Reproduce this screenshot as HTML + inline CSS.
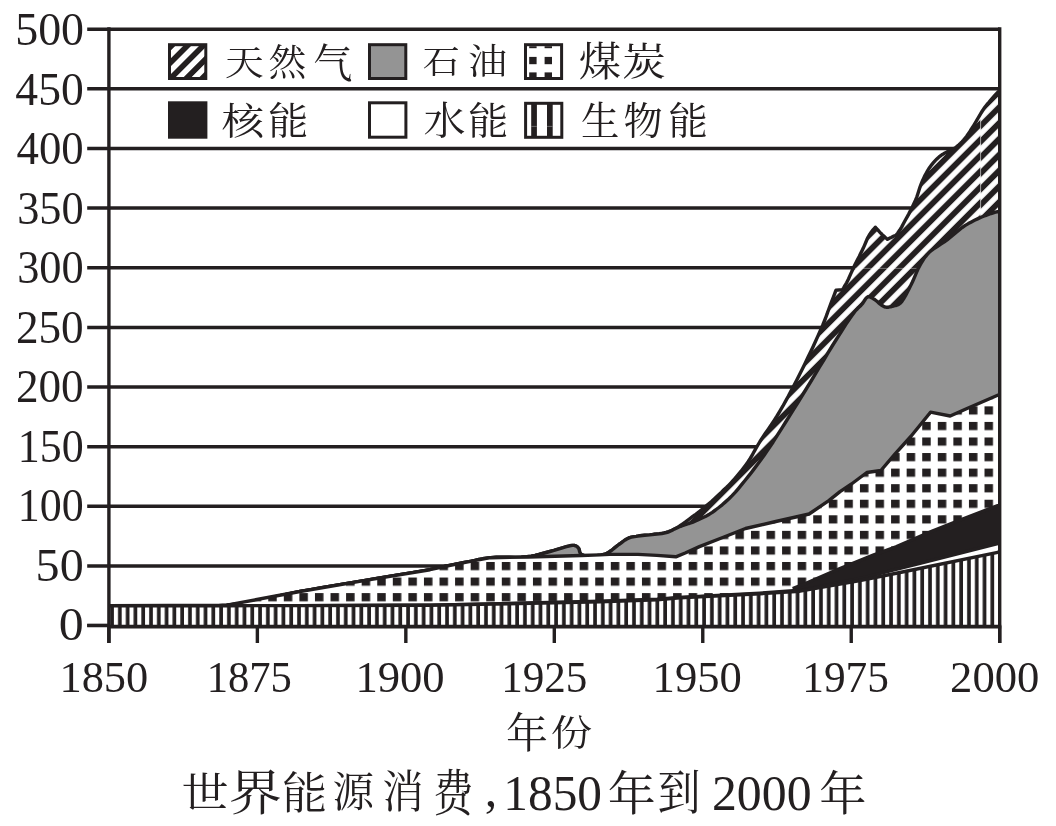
<!DOCTYPE html>
<html><head><meta charset="utf-8"><title>世界能源消费</title>
<style>html,body{margin:0;padding:0;background:#fff;overflow:hidden}svg{display:block;will-change:transform}</style></head>
<body><svg width="1056" height="826" viewBox="0 0 1056 826">
<rect width="1056" height="826" fill="#fff"/>
<defs>
<pattern id="pBio" patternUnits="userSpaceOnUse" x="113.9" y="0" width="7.79" height="20"><rect width="7.79" height="20" fill="#fff"/><rect x="4.1" width="3.69" height="20" fill="#231f20"/></pattern>
<pattern id="pCoal" patternUnits="userSpaceOnUse" x="314.95" y="593.1" width="15.571" height="15.562"><rect width="15.571" height="15.562" fill="#fff"/><rect width="8.5" height="8.2" fill="#231f20"/></pattern>
<pattern id="pGas" patternUnits="userSpaceOnUse" x="0" y="0" width="11.172" height="20" patternTransform="translate(1167.5,0) rotate(45)"><rect width="11.172" height="20" fill="#fff"/><rect x="-2.905" width="5.810" height="20" fill="#231f20"/><rect x="8.267" width="5.810" height="20" fill="#231f20"/></pattern>
<pattern id="pGas2" patternUnits="userSpaceOnUse" x="0" y="0" width="11.172" height="20" patternTransform="translate(1169.7,0) rotate(45)"><rect width="11.172" height="20" fill="#fff"/><rect x="-2.905" width="5.810" height="20" fill="#231f20"/><rect x="8.267" width="5.810" height="20" fill="#231f20"/></pattern>
<pattern id="pGasL" patternUnits="userSpaceOnUse" x="0" y="0" width="11.17" height="20" patternTransform="translate(233.1,0) rotate(45)"><rect width="11.17" height="20" fill="#fff"/><rect x="-2.79" width="5.58" height="20" fill="#231f20"/><rect x="8.38" width="5.58" height="20" fill="#231f20"/></pattern>
</defs>
<line x1="87.2" y1="29.20" x2="999.7" y2="29.20" stroke="#231f20" stroke-width="3.5"/>
<line x1="87.2" y1="88.84" x2="999.7" y2="88.84" stroke="#231f20" stroke-width="3.5"/>
<line x1="87.2" y1="148.48" x2="999.7" y2="148.48" stroke="#231f20" stroke-width="3.5"/>
<line x1="87.2" y1="208.12" x2="999.7" y2="208.12" stroke="#231f20" stroke-width="3.5"/>
<line x1="87.2" y1="267.76" x2="999.7" y2="267.76" stroke="#231f20" stroke-width="3.5"/>
<line x1="87.2" y1="327.40" x2="999.7" y2="327.40" stroke="#231f20" stroke-width="3.5"/>
<line x1="87.2" y1="387.04" x2="999.7" y2="387.04" stroke="#231f20" stroke-width="3.5"/>
<line x1="87.2" y1="446.68" x2="999.7" y2="446.68" stroke="#231f20" stroke-width="3.5"/>
<line x1="87.2" y1="506.32" x2="999.7" y2="506.32" stroke="#231f20" stroke-width="3.5"/>
<line x1="87.2" y1="565.96" x2="999.7" y2="565.96" stroke="#231f20" stroke-width="3.5"/>
<line x1="87.2" y1="625.60" x2="999.7" y2="625.60" stroke="#231f20" stroke-width="3.5"/>
<clipPath id="cG"><polygon points="108.9,605.7 115.2,605.9 131.8,606.3 154.9,606.7 180.8,606.8 206.0,606.4 226.7,605.2 240.0,603.6 252.7,601.4 264.8,599.0 276.6,596.3 288.3,593.8 300.0,591.5 310.9,589.6 321.6,587.7 332.2,585.9 342.7,584.2 353.3,582.4 364.0,580.6 375.4,578.7 387.5,576.8 399.7,574.8 411.2,573.0 421.5,571.2 430.0,569.7 433.4,569.0 436.3,568.4 438.9,567.8 441.4,567.2 443.9,566.6 446.7,566.0 450.1,565.3 453.5,564.6 457.1,563.9 460.7,563.2 464.3,562.5 467.9,561.8 471.6,561.1 475.2,560.3 478.9,559.5 482.6,558.8 486.5,558.2 490.6,557.7 496.3,557.3 502.4,557.3 508.8,557.3 515.2,557.4 521.3,557.3 527.0,556.8 531.2,556.2 535.1,555.4 538.9,554.5 542.6,553.5 546.3,552.5 550.0,551.5 554.0,550.4 558.2,549.1 562.4,547.8 566.4,546.7 569.8,545.8 572.4,545.4 573.2,545.4 573.9,545.4 574.5,545.5 575.0,545.6 575.5,545.8 576.0,546.0 576.5,546.3 576.9,546.5 577.3,546.9 577.7,547.3 578.1,547.7 578.5,548.2 579.0,549.1 579.3,550.2 579.6,551.5 580.0,552.7 580.6,553.8 581.5,554.6 584.1,555.6 587.8,556.0 592.1,556.1 596.7,555.8 601.0,555.1 604.7,554.2 607.4,553.1 609.9,551.5 612.3,549.8 614.6,547.9 616.8,546.1 618.9,544.5 620.6,543.3 622.2,542.1 623.7,541.0 625.2,539.9 626.8,539.0 628.4,538.2 629.9,537.6 631.4,537.2 633.0,536.9 634.6,536.6 636.2,536.4 637.9,536.1 640.1,535.8 642.4,535.5 644.8,535.3 647.3,535.1 649.7,534.9 652.1,534.6 654.5,534.3 656.9,534.0 659.2,533.8 661.6,533.4 663.8,533.0 666.0,532.5 667.7,532.0 669.4,531.4 671.0,530.8 672.5,530.1 674.1,529.3 675.8,528.4 678.1,527.1 680.4,525.5 682.8,523.8 685.2,522.1 687.6,520.3 690.0,518.5 692.4,516.7 694.9,515.0 697.3,513.2 699.7,511.3 702.1,509.4 704.5,507.5 706.9,505.4 709.4,503.3 711.8,501.2 714.2,499.0 716.6,496.7 719.0,494.5 721.5,492.2 723.9,489.8 726.4,487.5 728.8,485.1 731.2,482.6 733.6,480.0 736.1,477.1 738.6,474.2 741.1,471.2 743.5,468.0 745.8,464.9 748.1,461.7 750.2,458.5 752.2,455.2 754.0,451.8 755.9,448.4 757.9,445.0 760.0,441.5 762.6,437.4 765.4,433.3 768.3,429.1 771.3,424.8 774.2,420.4 777.0,416.0 779.9,411.2 782.8,406.2 785.6,401.1 788.4,396.0 791.1,390.8 793.9,385.6 796.8,380.0 799.7,374.3 802.6,368.6 805.4,362.8 808.1,357.1 810.8,351.5 813.3,346.2 815.8,340.8 818.2,335.4 820.5,330.2 822.6,325.4 824.4,321.0 825.4,318.5 826.2,316.3 827.0,314.2 827.7,312.1 828.5,310.0 829.3,307.8 830.5,304.6 831.9,300.8 833.4,297.0 834.7,293.6 835.6,291.1 836.0,290.2 842.6,289.6 842.8,289.2 843.5,288.1 844.4,286.5 845.5,284.7 846.6,282.8 847.5,281.0 848.5,279.0 849.4,276.9 850.4,274.6 851.4,272.4 852.4,270.0 853.5,267.7 854.8,265.0 856.2,262.2 857.7,259.3 859.2,256.5 860.6,253.6 862.0,250.8 863.3,248.1 864.5,245.3 865.7,242.5 866.8,239.8 868.0,237.3 869.3,235.0 870.4,233.3 871.7,231.6 873.0,229.9 874.2,228.5 875.0,227.6 875.3,227.2 875.6,227.5 876.4,228.5 877.6,229.7 878.9,231.2 880.2,232.6 881.4,233.8 882.5,234.9 883.8,236.1 885.1,237.3 886.3,238.3 887.1,239.0 887.4,239.3 887.7,239.1 888.6,238.7 889.8,238.1 891.2,237.4 892.5,236.7 893.5,236.2 894.0,236.0 894.5,235.8 894.9,235.7 895.3,235.5 895.8,235.2 896.3,234.8 897.8,233.0 899.6,230.3 901.6,227.1 903.5,223.5 905.4,220.0 907.2,216.8 908.7,214.1 910.1,211.4 911.5,208.8 912.8,206.1 914.1,203.3 915.4,200.5 916.7,197.3 917.8,193.9 918.9,190.5 920.0,187.1 921.2,183.8 922.5,180.7 923.7,178.1 924.9,175.6 926.2,173.2 927.5,170.9 928.9,168.6 930.4,166.5 931.8,164.6 933.4,162.7 935.0,160.9 936.6,159.2 938.2,157.7 939.8,156.3 941.1,155.3 942.4,154.4 943.7,153.7 945.0,152.9 946.4,152.2 947.7,151.5 949.0,150.8 950.3,150.3 951.6,149.7 952.9,149.1 954.2,148.4 955.5,147.6 957.1,146.4 958.7,145.0 960.3,143.5 961.9,141.9 963.5,140.2 965.0,138.4 966.7,136.3 968.2,134.0 969.8,131.7 971.3,129.2 972.9,126.8 974.4,124.3 976.0,121.7 977.5,119.0 979.1,116.3 980.7,113.6 982.3,111.0 983.9,108.6 985.4,106.5 987.0,104.5 988.7,102.6 990.3,100.7 991.8,98.9 993.3,97.2 994.6,95.7 996.0,94.1 997.4,92.6 998.6,91.3 999.4,90.3 999.7,90.0 999.7,625.6 108.9,625.6"/></clipPath>
<clipPath id="cR"><rect x="980.6" y="0" width="30" height="700"/></clipPath>
<polygon points="108.9,605.7 115.2,605.9 131.8,606.3 154.9,606.7 180.8,606.8 206.0,606.4 226.7,605.2 240.0,603.6 252.7,601.4 264.8,599.0 276.6,596.3 288.3,593.8 300.0,591.5 310.9,589.6 321.6,587.7 332.2,585.9 342.7,584.2 353.3,582.4 364.0,580.6 375.4,578.7 387.5,576.8 399.7,574.8 411.2,573.0 421.5,571.2 430.0,569.7 433.4,569.0 436.3,568.4 438.9,567.8 441.4,567.2 443.9,566.6 446.7,566.0 450.1,565.3 453.5,564.6 457.1,563.9 460.7,563.2 464.3,562.5 467.9,561.8 471.6,561.1 475.2,560.3 478.9,559.5 482.6,558.8 486.5,558.2 490.6,557.7 496.3,557.3 502.4,557.3 508.8,557.3 515.2,557.4 521.3,557.3 527.0,556.8 531.2,556.2 535.1,555.4 538.9,554.5 542.6,553.5 546.3,552.5 550.0,551.5 554.0,550.4 558.2,549.1 562.4,547.8 566.4,546.7 569.8,545.8 572.4,545.4 573.2,545.4 573.9,545.4 574.5,545.5 575.0,545.6 575.5,545.8 576.0,546.0 576.5,546.3 576.9,546.5 577.3,546.9 577.7,547.3 578.1,547.7 578.5,548.2 579.0,549.1 579.3,550.2 579.6,551.5 580.0,552.7 580.6,553.8 581.5,554.6 584.1,555.6 587.8,556.0 592.1,556.1 596.7,555.8 601.0,555.1 604.7,554.2 607.4,553.1 609.9,551.5 612.3,549.8 614.6,547.9 616.8,546.1 618.9,544.5 620.6,543.3 622.2,542.1 623.7,541.0 625.2,539.9 626.8,539.0 628.4,538.2 629.9,537.6 631.4,537.2 633.0,536.9 634.6,536.6 636.2,536.4 637.9,536.1 640.1,535.8 642.4,535.5 644.8,535.3 647.3,535.1 649.7,534.9 652.1,534.6 654.5,534.3 656.9,534.0 659.2,533.8 661.6,533.4 663.8,533.0 666.0,532.5 667.7,532.0 669.4,531.4 671.0,530.8 672.5,530.1 674.1,529.3 675.8,528.4 678.1,527.1 680.4,525.5 682.8,523.8 685.2,522.1 687.6,520.3 690.0,518.5 692.4,516.7 694.9,515.0 697.3,513.2 699.7,511.3 702.1,509.4 704.5,507.5 706.9,505.4 709.4,503.3 711.8,501.2 714.2,499.0 716.6,496.7 719.0,494.5 721.5,492.2 723.9,489.8 726.4,487.5 728.8,485.1 731.2,482.6 733.6,480.0 736.1,477.1 738.6,474.2 741.1,471.2 743.5,468.0 745.8,464.9 748.1,461.7 750.2,458.5 752.2,455.2 754.0,451.8 755.9,448.4 757.9,445.0 760.0,441.5 762.6,437.4 765.4,433.3 768.3,429.1 771.3,424.8 774.2,420.4 777.0,416.0 779.9,411.2 782.8,406.2 785.6,401.1 788.4,396.0 791.1,390.8 793.9,385.6 796.8,380.0 799.7,374.3 802.6,368.6 805.4,362.8 808.1,357.1 810.8,351.5 813.3,346.2 815.8,340.8 818.2,335.4 820.5,330.2 822.6,325.4 824.4,321.0 825.4,318.5 826.2,316.3 827.0,314.2 827.7,312.1 828.5,310.0 829.3,307.8 830.5,304.6 831.9,300.8 833.4,297.0 834.7,293.6 835.6,291.1 836.0,290.2 842.6,289.6 842.8,289.2 843.5,288.1 844.4,286.5 845.5,284.7 846.6,282.8 847.5,281.0 848.5,279.0 849.4,276.9 850.4,274.6 851.4,272.4 852.4,270.0 853.5,267.7 854.8,265.0 856.2,262.2 857.7,259.3 859.2,256.5 860.6,253.6 862.0,250.8 863.3,248.1 864.5,245.3 865.7,242.5 866.8,239.8 868.0,237.3 869.3,235.0 870.4,233.3 871.7,231.6 873.0,229.9 874.2,228.5 875.0,227.6 875.3,227.2 875.6,227.5 876.4,228.5 877.6,229.7 878.9,231.2 880.2,232.6 881.4,233.8 882.5,234.9 883.8,236.1 885.1,237.3 886.3,238.3 887.1,239.0 887.4,239.3 887.7,239.1 888.6,238.7 889.8,238.1 891.2,237.4 892.5,236.7 893.5,236.2 894.0,236.0 894.5,235.8 894.9,235.7 895.3,235.5 895.8,235.2 896.3,234.8 897.8,233.0 899.6,230.3 901.6,227.1 903.5,223.5 905.4,220.0 907.2,216.8 908.7,214.1 910.1,211.4 911.5,208.8 912.8,206.1 914.1,203.3 915.4,200.5 916.7,197.3 917.8,193.9 918.9,190.5 920.0,187.1 921.2,183.8 922.5,180.7 923.7,178.1 924.9,175.6 926.2,173.2 927.5,170.9 928.9,168.6 930.4,166.5 931.8,164.6 933.4,162.7 935.0,160.9 936.6,159.2 938.2,157.7 939.8,156.3 941.1,155.3 942.4,154.4 943.7,153.7 945.0,152.9 946.4,152.2 947.7,151.5 949.0,150.8 950.3,150.3 951.6,149.7 952.9,149.1 954.2,148.4 955.5,147.6 957.1,146.4 958.7,145.0 960.3,143.5 961.9,141.9 963.5,140.2 965.0,138.4 966.7,136.3 968.2,134.0 969.8,131.7 971.3,129.2 972.9,126.8 974.4,124.3 976.0,121.7 977.5,119.0 979.1,116.3 980.7,113.6 982.3,111.0 983.9,108.6 985.4,106.5 987.0,104.5 988.7,102.6 990.3,100.7 991.8,98.9 993.3,97.2 994.6,95.7 996.0,94.1 997.4,92.6 998.6,91.3 999.4,90.3 999.7,90.0 999.7,625.6 108.9,625.6" fill="url(#pGas)"/>
<g clip-path="url(#cR)"><polygon points="108.9,605.7 115.2,605.9 131.8,606.3 154.9,606.7 180.8,606.8 206.0,606.4 226.7,605.2 240.0,603.6 252.7,601.4 264.8,599.0 276.6,596.3 288.3,593.8 300.0,591.5 310.9,589.6 321.6,587.7 332.2,585.9 342.7,584.2 353.3,582.4 364.0,580.6 375.4,578.7 387.5,576.8 399.7,574.8 411.2,573.0 421.5,571.2 430.0,569.7 433.4,569.0 436.3,568.4 438.9,567.8 441.4,567.2 443.9,566.6 446.7,566.0 450.1,565.3 453.5,564.6 457.1,563.9 460.7,563.2 464.3,562.5 467.9,561.8 471.6,561.1 475.2,560.3 478.9,559.5 482.6,558.8 486.5,558.2 490.6,557.7 496.3,557.3 502.4,557.3 508.8,557.3 515.2,557.4 521.3,557.3 527.0,556.8 531.2,556.2 535.1,555.4 538.9,554.5 542.6,553.5 546.3,552.5 550.0,551.5 554.0,550.4 558.2,549.1 562.4,547.8 566.4,546.7 569.8,545.8 572.4,545.4 573.2,545.4 573.9,545.4 574.5,545.5 575.0,545.6 575.5,545.8 576.0,546.0 576.5,546.3 576.9,546.5 577.3,546.9 577.7,547.3 578.1,547.7 578.5,548.2 579.0,549.1 579.3,550.2 579.6,551.5 580.0,552.7 580.6,553.8 581.5,554.6 584.1,555.6 587.8,556.0 592.1,556.1 596.7,555.8 601.0,555.1 604.7,554.2 607.4,553.1 609.9,551.5 612.3,549.8 614.6,547.9 616.8,546.1 618.9,544.5 620.6,543.3 622.2,542.1 623.7,541.0 625.2,539.9 626.8,539.0 628.4,538.2 629.9,537.6 631.4,537.2 633.0,536.9 634.6,536.6 636.2,536.4 637.9,536.1 640.1,535.8 642.4,535.5 644.8,535.3 647.3,535.1 649.7,534.9 652.1,534.6 654.5,534.3 656.9,534.0 659.2,533.8 661.6,533.4 663.8,533.0 666.0,532.5 667.7,532.0 669.4,531.4 671.0,530.8 672.5,530.1 674.1,529.3 675.8,528.4 678.1,527.1 680.4,525.5 682.8,523.8 685.2,522.1 687.6,520.3 690.0,518.5 692.4,516.7 694.9,515.0 697.3,513.2 699.7,511.3 702.1,509.4 704.5,507.5 706.9,505.4 709.4,503.3 711.8,501.2 714.2,499.0 716.6,496.7 719.0,494.5 721.5,492.2 723.9,489.8 726.4,487.5 728.8,485.1 731.2,482.6 733.6,480.0 736.1,477.1 738.6,474.2 741.1,471.2 743.5,468.0 745.8,464.9 748.1,461.7 750.2,458.5 752.2,455.2 754.0,451.8 755.9,448.4 757.9,445.0 760.0,441.5 762.6,437.4 765.4,433.3 768.3,429.1 771.3,424.8 774.2,420.4 777.0,416.0 779.9,411.2 782.8,406.2 785.6,401.1 788.4,396.0 791.1,390.8 793.9,385.6 796.8,380.0 799.7,374.3 802.6,368.6 805.4,362.8 808.1,357.1 810.8,351.5 813.3,346.2 815.8,340.8 818.2,335.4 820.5,330.2 822.6,325.4 824.4,321.0 825.4,318.5 826.2,316.3 827.0,314.2 827.7,312.1 828.5,310.0 829.3,307.8 830.5,304.6 831.9,300.8 833.4,297.0 834.7,293.6 835.6,291.1 836.0,290.2 842.6,289.6 842.8,289.2 843.5,288.1 844.4,286.5 845.5,284.7 846.6,282.8 847.5,281.0 848.5,279.0 849.4,276.9 850.4,274.6 851.4,272.4 852.4,270.0 853.5,267.7 854.8,265.0 856.2,262.2 857.7,259.3 859.2,256.5 860.6,253.6 862.0,250.8 863.3,248.1 864.5,245.3 865.7,242.5 866.8,239.8 868.0,237.3 869.3,235.0 870.4,233.3 871.7,231.6 873.0,229.9 874.2,228.5 875.0,227.6 875.3,227.2 875.6,227.5 876.4,228.5 877.6,229.7 878.9,231.2 880.2,232.6 881.4,233.8 882.5,234.9 883.8,236.1 885.1,237.3 886.3,238.3 887.1,239.0 887.4,239.3 887.7,239.1 888.6,238.7 889.8,238.1 891.2,237.4 892.5,236.7 893.5,236.2 894.0,236.0 894.5,235.8 894.9,235.7 895.3,235.5 895.8,235.2 896.3,234.8 897.8,233.0 899.6,230.3 901.6,227.1 903.5,223.5 905.4,220.0 907.2,216.8 908.7,214.1 910.1,211.4 911.5,208.8 912.8,206.1 914.1,203.3 915.4,200.5 916.7,197.3 917.8,193.9 918.9,190.5 920.0,187.1 921.2,183.8 922.5,180.7 923.7,178.1 924.9,175.6 926.2,173.2 927.5,170.9 928.9,168.6 930.4,166.5 931.8,164.6 933.4,162.7 935.0,160.9 936.6,159.2 938.2,157.7 939.8,156.3 941.1,155.3 942.4,154.4 943.7,153.7 945.0,152.9 946.4,152.2 947.7,151.5 949.0,150.8 950.3,150.3 951.6,149.7 952.9,149.1 954.2,148.4 955.5,147.6 957.1,146.4 958.7,145.0 960.3,143.5 961.9,141.9 963.5,140.2 965.0,138.4 966.7,136.3 968.2,134.0 969.8,131.7 971.3,129.2 972.9,126.8 974.4,124.3 976.0,121.7 977.5,119.0 979.1,116.3 980.7,113.6 982.3,111.0 983.9,108.6 985.4,106.5 987.0,104.5 988.7,102.6 990.3,100.7 991.8,98.9 993.3,97.2 994.6,95.7 996.0,94.1 997.4,92.6 998.6,91.3 999.4,90.3 999.7,90.0 999.7,625.6 108.9,625.6" fill="url(#pGas2)"/></g>
<g clip-path="url(#cG)"><line x1="855" y1="268.4" x2="925" y2="268.4" stroke="#fff" stroke-opacity="0.45" stroke-width="0.8"/><line x1="980.6" y1="100" x2="980.6" y2="230" stroke="#fff" stroke-opacity="0.75" stroke-width="0.8"/></g>
<polyline points="108.9,605.7 115.2,605.9 131.8,606.3 154.9,606.7 180.8,606.8 206.0,606.4 226.7,605.2 240.0,603.6 252.7,601.4 264.8,599.0 276.6,596.3 288.3,593.8 300.0,591.5 310.9,589.6 321.6,587.7 332.2,585.9 342.7,584.2 353.3,582.4 364.0,580.6 375.4,578.7 387.5,576.8 399.7,574.8 411.2,573.0 421.5,571.2 430.0,569.7 433.4,569.0 436.3,568.4 438.9,567.8 441.4,567.2 443.9,566.6 446.7,566.0 450.1,565.3 453.5,564.6 457.1,563.9 460.7,563.2 464.3,562.5 467.9,561.8 471.6,561.1 475.2,560.3 478.9,559.5 482.6,558.8 486.5,558.2 490.6,557.7 496.3,557.3 502.4,557.3 508.8,557.3 515.2,557.4 521.3,557.3 527.0,556.8 531.2,556.2 535.1,555.4 538.9,554.5 542.6,553.5 546.3,552.5 550.0,551.5 554.0,550.4 558.2,549.1 562.4,547.8 566.4,546.7 569.8,545.8 572.4,545.4 573.2,545.4 573.9,545.4 574.5,545.5 575.0,545.6 575.5,545.8 576.0,546.0 576.5,546.3 576.9,546.5 577.3,546.9 577.7,547.3 578.1,547.7 578.5,548.2 579.0,549.1 579.3,550.2 579.6,551.5 580.0,552.7 580.6,553.8 581.5,554.6 584.1,555.6 587.8,556.0 592.1,556.1 596.7,555.8 601.0,555.1 604.7,554.2 607.4,553.1 609.9,551.5 612.3,549.8 614.6,547.9 616.8,546.1 618.9,544.5 620.6,543.3 622.2,542.1 623.7,541.0 625.2,539.9 626.8,539.0 628.4,538.2 629.9,537.6 631.4,537.2 633.0,536.9 634.6,536.6 636.2,536.4 637.9,536.1 640.1,535.8 642.4,535.5 644.8,535.3 647.3,535.1 649.7,534.9 652.1,534.6 654.5,534.3 656.9,534.0 659.2,533.8 661.6,533.4 663.8,533.0 666.0,532.5 667.7,532.0 669.4,531.4 671.0,530.8 672.5,530.1 674.1,529.3 675.8,528.4 678.1,527.1 680.4,525.5 682.8,523.8 685.2,522.1 687.6,520.3 690.0,518.5 692.4,516.7 694.9,515.0 697.3,513.2 699.7,511.3 702.1,509.4 704.5,507.5 706.9,505.4 709.4,503.3 711.8,501.2 714.2,499.0 716.6,496.7 719.0,494.5 721.5,492.2 723.9,489.8 726.4,487.5 728.8,485.1 731.2,482.6 733.6,480.0 736.1,477.1 738.6,474.2 741.1,471.2 743.5,468.0 745.8,464.9 748.1,461.7 750.2,458.5 752.2,455.2 754.0,451.8 755.9,448.4 757.9,445.0 760.0,441.5 762.6,437.4 765.4,433.3 768.3,429.1 771.3,424.8 774.2,420.4 777.0,416.0 779.9,411.2 782.8,406.2 785.6,401.1 788.4,396.0 791.1,390.8 793.9,385.6 796.8,380.0 799.7,374.3 802.6,368.6 805.4,362.8 808.1,357.1 810.8,351.5 813.3,346.2 815.8,340.8 818.2,335.4 820.5,330.2 822.6,325.4 824.4,321.0 825.4,318.5 826.2,316.3 827.0,314.2 827.7,312.1 828.5,310.0 829.3,307.8 830.5,304.6 831.9,300.8 833.4,297.0 834.7,293.6 835.6,291.1 836.0,290.2 842.6,289.6 842.8,289.2 843.5,288.1 844.4,286.5 845.5,284.7 846.6,282.8 847.5,281.0 848.5,279.0 849.4,276.9 850.4,274.6 851.4,272.4 852.4,270.0 853.5,267.7 854.8,265.0 856.2,262.2 857.7,259.3 859.2,256.5 860.6,253.6 862.0,250.8 863.3,248.1 864.5,245.3 865.7,242.5 866.8,239.8 868.0,237.3 869.3,235.0 870.4,233.3 871.7,231.6 873.0,229.9 874.2,228.5 875.0,227.6 875.3,227.2 875.6,227.5 876.4,228.5 877.6,229.7 878.9,231.2 880.2,232.6 881.4,233.8 882.5,234.9 883.8,236.1 885.1,237.3 886.3,238.3 887.1,239.0 887.4,239.3 887.7,239.1 888.6,238.7 889.8,238.1 891.2,237.4 892.5,236.7 893.5,236.2 894.0,236.0 894.5,235.8 894.9,235.7 895.3,235.5 895.8,235.2 896.3,234.8 897.8,233.0 899.6,230.3 901.6,227.1 903.5,223.5 905.4,220.0 907.2,216.8 908.7,214.1 910.1,211.4 911.5,208.8 912.8,206.1 914.1,203.3 915.4,200.5 916.7,197.3 917.8,193.9 918.9,190.5 920.0,187.1 921.2,183.8 922.5,180.7 923.7,178.1 924.9,175.6 926.2,173.2 927.5,170.9 928.9,168.6 930.4,166.5 931.8,164.6 933.4,162.7 935.0,160.9 936.6,159.2 938.2,157.7 939.8,156.3 941.1,155.3 942.4,154.4 943.7,153.7 945.0,152.9 946.4,152.2 947.7,151.5 949.0,150.8 950.3,150.3 951.6,149.7 952.9,149.1 954.2,148.4 955.5,147.6 957.1,146.4 958.7,145.0 960.3,143.5 961.9,141.9 963.5,140.2 965.0,138.4 966.7,136.3 968.2,134.0 969.8,131.7 971.3,129.2 972.9,126.8 974.4,124.3 976.0,121.7 977.5,119.0 979.1,116.3 980.7,113.6 982.3,111.0 983.9,108.6 985.4,106.5 987.0,104.5 988.7,102.6 990.3,100.7 991.8,98.9 993.3,97.2 994.6,95.7 996.0,94.1 997.4,92.6 998.6,91.3 999.4,90.3 999.7,90.0" fill="none" stroke="#231f20" stroke-width="3.4" stroke-linejoin="round"/>
<polygon points="108.9,605.7 115.2,605.9 131.8,606.3 154.9,606.7 180.8,606.8 206.0,606.4 226.7,605.2 240.0,603.6 252.7,601.4 264.8,599.0 276.6,596.3 288.3,593.8 300.0,591.5 310.9,589.6 321.6,587.7 332.2,585.9 342.7,584.2 353.3,582.4 364.0,580.6 375.4,578.7 387.5,576.8 399.7,574.8 411.2,573.0 421.5,571.2 430.0,569.7 433.4,569.0 436.3,568.4 438.9,567.8 441.4,567.2 443.9,566.6 446.7,566.0 450.1,565.3 453.5,564.6 457.1,563.9 460.7,563.2 464.3,562.5 467.9,561.8 471.6,561.1 475.2,560.3 478.9,559.5 482.6,558.8 486.5,558.2 490.6,557.7 496.3,557.3 502.4,557.3 508.8,557.3 515.2,557.4 521.3,557.3 527.0,556.8 531.2,556.2 535.1,555.4 538.9,554.5 542.6,553.5 546.3,552.5 550.0,551.5 554.0,550.4 558.2,549.1 562.4,547.8 566.4,546.7 569.8,545.8 572.4,545.4 573.2,545.4 573.9,545.4 574.5,545.5 575.0,545.6 575.5,545.8 576.0,546.0 576.5,546.3 576.9,546.5 577.3,546.9 577.7,547.3 578.1,547.7 578.5,548.2 579.0,549.1 579.3,550.2 579.6,551.5 580.0,552.7 580.6,553.8 581.5,554.6 584.1,555.6 587.8,556.0 592.1,556.1 596.7,555.8 601.0,555.1 604.7,554.2 607.4,553.1 609.9,551.5 612.3,549.8 614.6,547.9 616.8,546.1 618.9,544.5 620.6,543.3 622.2,542.1 623.7,541.0 625.2,539.9 626.8,539.0 628.4,538.2 629.9,537.6 631.4,537.2 633.0,536.9 634.6,536.6 636.2,536.4 637.9,536.1 640.1,535.8 642.4,535.5 644.8,535.3 647.3,535.1 649.7,534.9 652.1,534.6 654.5,534.3 657.0,534.1 659.4,533.9 661.8,533.6 664.1,533.2 666.3,532.7 668.0,532.1 669.6,531.4 671.2,530.7 672.7,529.9 674.2,529.1 675.8,528.4 677.4,527.7 679.0,527.0 680.7,526.3 682.3,525.7 683.8,525.1 685.2,524.6 686.1,524.3 686.9,524.1 687.6,523.9 688.3,523.7 689.1,523.5 690.0,523.2 691.4,522.7 692.9,522.1 694.5,521.4 696.1,520.7 697.8,519.9 699.4,519.2 701.0,518.5 702.6,517.8 704.2,517.0 705.9,516.2 707.6,515.3 709.4,514.2 712.3,512.3 715.5,510.0 718.8,507.5 722.2,504.8 725.5,501.9 728.7,499.0 732.1,495.6 735.4,492.1 738.6,488.3 741.8,484.4 745.0,480.5 748.1,476.6 751.3,472.6 754.5,468.4 757.6,464.3 760.7,460.1 763.8,455.8 766.8,451.4 769.9,446.8 773.0,442.2 776.0,437.4 779.0,432.6 782.2,427.6 785.4,422.5 789.4,416.1 793.6,409.4 797.9,402.5 802.2,395.5 806.5,388.5 810.8,381.5 815.1,374.4 819.4,367.2 823.8,360.0 828.0,352.9 832.2,346.0 836.3,339.5 839.6,334.3 842.9,329.0 846.2,323.9 849.3,319.2 852.3,315.0 854.9,311.5 856.2,310.0 857.5,308.7 858.6,307.5 859.8,306.4 860.9,305.4 862.0,304.2 863.0,302.9 864.0,301.3 865.0,299.8 865.9,298.4 866.9,297.4 868.0,296.8 869.0,296.7 870.0,296.9 871.0,297.4 872.0,297.9 873.1,298.6 874.1,299.2 875.3,300.0 876.6,301.0 877.8,302.1 879.0,303.2 880.2,304.2 881.4,305.0 882.2,305.5 883.0,306.0 883.8,306.4 884.5,306.8 885.3,307.0 886.2,307.2 887.3,307.3 888.5,307.2 889.8,306.9 891.1,306.7 892.3,306.3 893.5,306.0 894.6,305.7 895.7,305.5 896.7,305.2 897.8,304.8 898.8,304.3 899.9,303.5 901.8,301.5 903.6,298.8 905.5,295.6 907.3,292.1 909.1,288.6 910.8,285.3 912.4,282.0 913.9,278.6 915.4,275.1 916.8,271.7 918.3,268.4 919.9,265.4 921.3,263.0 922.6,260.8 924.0,258.6 925.5,256.6 927.1,254.6 929.0,252.6 931.6,250.3 934.5,248.2 937.6,246.2 940.8,244.1 944.0,242.1 947.1,239.9 950.1,237.5 953.1,235.0 956.1,232.4 959.2,229.9 962.2,227.5 965.3,225.4 968.3,223.6 971.4,221.9 974.5,220.3 977.6,218.9 980.6,217.5 983.5,216.3 986.0,215.3 988.5,214.4 991.0,213.5 993.3,212.8 995.4,212.2 997.0,211.8 997.6,211.7 998.2,211.6 998.8,211.5 999.3,211.5 999.6,211.5 999.7,211.5 999.7,625.6 108.9,625.6" fill="#949494"/>
<polyline points="108.9,605.7 115.2,605.9 131.8,606.3 154.9,606.7 180.8,606.8 206.0,606.4 226.7,605.2 240.0,603.6 252.7,601.4 264.8,599.0 276.6,596.3 288.3,593.8 300.0,591.5 310.9,589.6 321.6,587.7 332.2,585.9 342.7,584.2 353.3,582.4 364.0,580.6 375.4,578.7 387.5,576.8 399.7,574.8 411.2,573.0 421.5,571.2 430.0,569.7 433.4,569.0 436.3,568.4 438.9,567.8 441.4,567.2 443.9,566.6 446.7,566.0 450.1,565.3 453.5,564.6 457.1,563.9 460.7,563.2 464.3,562.5 467.9,561.8 471.6,561.1 475.2,560.3 478.9,559.5 482.6,558.8 486.5,558.2 490.6,557.7 496.3,557.3 502.4,557.3 508.8,557.3 515.2,557.4 521.3,557.3 527.0,556.8 531.2,556.2 535.1,555.4 538.9,554.5 542.6,553.5 546.3,552.5 550.0,551.5 554.0,550.4 558.2,549.1 562.4,547.8 566.4,546.7 569.8,545.8 572.4,545.4 573.2,545.4 573.9,545.4 574.5,545.5 575.0,545.6 575.5,545.8 576.0,546.0 576.5,546.3 576.9,546.5 577.3,546.9 577.7,547.3 578.1,547.7 578.5,548.2 579.0,549.1 579.3,550.2 579.6,551.5 580.0,552.7 580.6,553.8 581.5,554.6 584.1,555.6 587.8,556.0 592.1,556.1 596.7,555.8 601.0,555.1 604.7,554.2 607.4,553.1 609.9,551.5 612.3,549.8 614.6,547.9 616.8,546.1 618.9,544.5 620.6,543.3 622.2,542.1 623.7,541.0 625.2,539.9 626.8,539.0 628.4,538.2 629.9,537.6 631.4,537.2 633.0,536.9 634.6,536.6 636.2,536.4 637.9,536.1 640.1,535.8 642.4,535.5 644.8,535.3 647.3,535.1 649.7,534.9 652.1,534.6 654.5,534.3 657.0,534.1 659.4,533.9 661.8,533.6 664.1,533.2 666.3,532.7 668.0,532.1 669.6,531.4 671.2,530.7 672.7,529.9 674.2,529.1 675.8,528.4 677.4,527.7 679.0,527.0 680.7,526.3 682.3,525.7 683.8,525.1 685.2,524.6 686.1,524.3 686.9,524.1 687.6,523.9 688.3,523.7 689.1,523.5 690.0,523.2 691.4,522.7 692.9,522.1 694.5,521.4 696.1,520.7 697.8,519.9 699.4,519.2 701.0,518.5 702.6,517.8 704.2,517.0 705.9,516.2 707.6,515.3 709.4,514.2 712.3,512.3 715.5,510.0 718.8,507.5 722.2,504.8 725.5,501.9 728.7,499.0 732.1,495.6 735.4,492.1 738.6,488.3 741.8,484.4 745.0,480.5 748.1,476.6 751.3,472.6 754.5,468.4 757.6,464.3 760.7,460.1 763.8,455.8 766.8,451.4 769.9,446.8 773.0,442.2 776.0,437.4 779.0,432.6 782.2,427.6 785.4,422.5 789.4,416.1 793.6,409.4 797.9,402.5 802.2,395.5 806.5,388.5 810.8,381.5 815.1,374.4 819.4,367.2 823.8,360.0 828.0,352.9 832.2,346.0 836.3,339.5 839.6,334.3 842.9,329.0 846.2,323.9 849.3,319.2 852.3,315.0 854.9,311.5 856.2,310.0 857.5,308.7 858.6,307.5 859.8,306.4 860.9,305.4 862.0,304.2 863.0,302.9 864.0,301.3 865.0,299.8 865.9,298.4 866.9,297.4 868.0,296.8 869.0,296.7 870.0,296.9 871.0,297.4 872.0,297.9 873.1,298.6 874.1,299.2 875.3,300.0 876.6,301.0 877.8,302.1 879.0,303.2 880.2,304.2 881.4,305.0 882.2,305.5 883.0,306.0 883.8,306.4 884.5,306.8 885.3,307.0 886.2,307.2 887.3,307.3 888.5,307.2 889.8,306.9 891.1,306.7 892.3,306.3 893.5,306.0 894.6,305.7 895.7,305.5 896.7,305.2 897.8,304.8 898.8,304.3 899.9,303.5 901.8,301.5 903.6,298.8 905.5,295.6 907.3,292.1 909.1,288.6 910.8,285.3 912.4,282.0 913.9,278.6 915.4,275.1 916.8,271.7 918.3,268.4 919.9,265.4 921.3,263.0 922.6,260.8 924.0,258.6 925.5,256.6 927.1,254.6 929.0,252.6 931.6,250.3 934.5,248.2 937.6,246.2 940.8,244.1 944.0,242.1 947.1,239.9 950.1,237.5 953.1,235.0 956.1,232.4 959.2,229.9 962.2,227.5 965.3,225.4 968.3,223.6 971.4,221.9 974.5,220.3 977.6,218.9 980.6,217.5 983.5,216.3 986.0,215.3 988.5,214.4 991.0,213.5 993.3,212.8 995.4,212.2 997.0,211.8 997.6,211.7 998.2,211.6 998.8,211.5 999.3,211.5 999.6,211.5 999.7,211.5" fill="none" stroke="#231f20" stroke-width="3.4" stroke-linejoin="round"/>

<polygon points="108.9,605.7 226.7,605.2 300.0,591.5 364.0,580.6 430.0,569.7 446.7,566.0 467.9,561.8 490.6,557.7 528.5,557.0 581.5,555.5 600.0,554.9 609.5,554.4 637.9,554.4 656.8,555.4 675.8,556.8 685.2,553.0 699.4,546.6 722.7,537.5 745.5,528.5 775.8,521.5 809.1,514.0 828.8,500.6 840.0,491.6 851.5,484.0 866.8,472.5 880.9,470.5 895.1,453.8 910.8,436.5 930.5,412.2 950.2,416.0 965.9,409.0 998.2,395.0 999.7,394.5 999.7,625.6 108.9,625.6" fill="url(#pCoal)"/>
<polyline points="108.9,605.7 226.7,605.2 300.0,591.5 364.0,580.6 430.0,569.7 446.7,566.0 467.9,561.8 490.6,557.7 528.5,557.0 581.5,555.5 600.0,554.9 609.5,554.4 637.9,554.4 656.8,555.4 675.8,556.8 685.2,553.0 699.4,546.6 722.7,537.5 745.5,528.5 775.8,521.5 809.1,514.0 828.8,500.6 840.0,491.6 851.5,484.0 866.8,472.5 880.9,470.5 895.1,453.8 910.8,436.5 930.5,412.2 950.2,416.0 965.9,409.0 998.2,395.0 999.7,394.5" fill="none" stroke="#231f20" stroke-width="3.4" stroke-linejoin="round"/>

<polygon points="792.7,588.5 806.6,583.0 839.9,568.5 873.2,555.2 896.0,546.8 932.3,531.0 962.6,519.0 997.7,505.6 999.7,505.4 999.7,625.6 792.7,625.6" fill="#231f20"/>
<polyline points="792.7,588.5 806.6,583.0 839.9,568.5 873.2,555.2 896.0,546.8 932.3,531.0 962.6,519.0 997.7,505.6 999.7,505.4" fill="none" stroke="#231f20" stroke-width="3.4" stroke-linejoin="round"/>

<polygon points="108.9,605.7 228.0,605.7 300.0,605.6 400.0,605.3 430.0,605.1 480.0,604.1 600.0,601.3 657.0,599.2 680.0,597.4 750.0,593.8 760.0,593.2 800.0,590.3 860.0,578.3 870.0,576.1 890.0,570.9 900.0,568.4 920.0,563.4 997.7,543.7 999.7,543.3 999.7,625.6 108.9,625.6" fill="#fff"/>
<polyline points="108.9,605.7 228.0,605.7 300.0,605.6 400.0,605.3 430.0,605.1 480.0,604.1 600.0,601.3 657.0,599.2 680.0,597.4 750.0,593.8 760.0,593.2 800.0,590.3 860.0,578.3 870.0,576.1 890.0,570.9 900.0,568.4 920.0,563.4 997.7,543.7 999.7,543.3" fill="none" stroke="#231f20" stroke-width="3.4" stroke-linejoin="round"/>

<polygon points="108.9,605.7 228.0,605.7 300.0,605.6 430.0,605.2 480.0,604.3 600.0,601.8 657.0,599.7 680.0,597.8 760.0,593.7 800.0,591.2 860.0,580.5 900.0,572.5 997.7,552.3 999.7,552.0 999.7,625.6 108.9,625.6" fill="url(#pBio)"/>
<polyline points="108.9,605.7 228.0,605.7 300.0,605.6 430.0,605.2 480.0,604.3 600.0,601.8 657.0,599.7 680.0,597.8 760.0,593.7 800.0,591.2 860.0,580.5 900.0,572.5 997.7,552.3 999.7,552.0" fill="none" stroke="#231f20" stroke-width="3.4" stroke-linejoin="round"/>

<line x1="108.9" y1="27.3" x2="108.9" y2="643" stroke="#231f20" stroke-width="3.4"/>
<line x1="999.7" y1="27.3" x2="999.7" y2="643" stroke="#231f20" stroke-width="3.4"/>
<line x1="87.2" y1="625.4" x2="108.9" y2="625.4" stroke="#231f20" stroke-width="3.0"/>
<line x1="108.9" y1="626.65" x2="1001.2" y2="626.65" stroke="#231f20" stroke-width="3.7"/>
<line x1="108.90" y1="625.6" x2="108.90" y2="643" stroke="#231f20" stroke-width="3.4"/>
<line x1="257.37" y1="625.6" x2="257.37" y2="643" stroke="#231f20" stroke-width="3.4"/>
<line x1="405.83" y1="625.6" x2="405.83" y2="643" stroke="#231f20" stroke-width="3.4"/>
<line x1="554.30" y1="625.6" x2="554.30" y2="643" stroke="#231f20" stroke-width="3.4"/>
<line x1="702.77" y1="625.6" x2="702.77" y2="643" stroke="#231f20" stroke-width="3.4"/>
<line x1="851.23" y1="625.6" x2="851.23" y2="643" stroke="#231f20" stroke-width="3.4"/>
<line x1="999.70" y1="625.6" x2="999.70" y2="643" stroke="#231f20" stroke-width="3.4"/>
<rect x="169.5" y="44.7" width="36.3" height="33.8" fill="url(#pGasL)" stroke="#231f20" stroke-width="3"/>
<rect x="369.5" y="44.7" width="36.3" height="33.8" fill="#949494" stroke="#231f20" stroke-width="3"/>
<rect x="525.5" y="44.7" width="36.1" height="33.8" fill="#fff" stroke="#231f20" stroke-width="3"/>
<rect x="529.2" y="46.2" width="7.4" height="2.0" fill="#231f20"/>
<rect x="529.2" y="56.9" width="7.4" height="7.3" fill="#231f20"/>
<rect x="529.2" y="72.4" width="7.4" height="4.8" fill="#231f20"/>
<rect x="544.6" y="46.2" width="7.4" height="2.0" fill="#231f20"/>
<rect x="544.6" y="56.9" width="7.4" height="7.3" fill="#231f20"/>
<rect x="544.6" y="72.4" width="7.4" height="4.8" fill="#231f20"/>
<rect x="169.5" y="102.8" width="36.4" height="34.4" fill="#231f20" stroke="#231f20" stroke-width="3"/>
<rect x="369.5" y="102.8" width="36.4" height="34.4" fill="#fff" stroke="#231f20" stroke-width="3"/>
<rect x="525.6" y="103.3" width="36.2" height="34.0" fill="#fff" stroke="#231f20" stroke-width="3"/>
<rect x="531.2" y="103" width="5.7" height="34" fill="#231f20"/><rect x="547" y="103" width="5.7" height="34" fill="#231f20"/>
<line x1="531.2" y1="126.4" x2="536.9" y2="126.4" stroke="#9a9a9a" stroke-width="0.6"/><line x1="547" y1="126.4" x2="552.7" y2="126.4" stroke="#9a9a9a" stroke-width="0.6"/>
<text transform="translate(84.10,45.37) scale(1.0106,1)" text-anchor="end" style="font-family:'Liberation Serif','Noto Serif CJK SC',serif;font-size:45.49px" fill="#231f20">500</text>
<text transform="translate(83.70,105.22) scale(1.0016,1)" text-anchor="end" style="font-family:'Liberation Serif','Noto Serif CJK SC',serif;font-size:45.49px" fill="#231f20">450</text>
<text transform="translate(83.70,164.27) scale(0.9841,1)" text-anchor="end" style="font-family:'Liberation Serif','Noto Serif CJK SC',serif;font-size:45.49px" fill="#231f20">400</text>
<text transform="translate(83.70,223.92) scale(0.9754,1)" text-anchor="end" style="font-family:'Liberation Serif','Noto Serif CJK SC',serif;font-size:45.49px" fill="#231f20">350</text>
<text transform="translate(83.70,283.07) scale(0.9754,1)" text-anchor="end" style="font-family:'Liberation Serif','Noto Serif CJK SC',serif;font-size:45.49px" fill="#231f20">300</text>
<text transform="translate(83.70,343.42) scale(0.9937,1)" text-anchor="end" style="font-family:'Liberation Serif','Noto Serif CJK SC',serif;font-size:45.49px" fill="#231f20">250</text>
<text transform="translate(83.70,402.37) scale(0.9937,1)" text-anchor="end" style="font-family:'Liberation Serif','Noto Serif CJK SC',serif;font-size:45.49px" fill="#231f20">200</text>
<text transform="translate(83.70,462.12) scale(0.9666,1)" text-anchor="end" style="font-family:'Liberation Serif','Noto Serif CJK SC',serif;font-size:45.49px" fill="#231f20">150</text>
<text transform="translate(83.70,521.07) scale(0.9666,1)" text-anchor="end" style="font-family:'Liberation Serif','Noto Serif CJK SC',serif;font-size:45.49px" fill="#231f20">100</text>
<text transform="translate(83.70,581.12) scale(1.0575,1)" text-anchor="end" style="font-family:'Liberation Serif','Noto Serif CJK SC',serif;font-size:45.49px" fill="#231f20">50</text>
<text transform="translate(83.70,639.97) scale(1.0978,1)" text-anchor="end" style="font-family:'Liberation Serif','Noto Serif CJK SC',serif;font-size:45.49px" fill="#231f20">0</text>
<text transform="translate(103.85,692.15) scale(0.9845,1)" text-anchor="middle" style="font-family:'Liberation Serif','Noto Serif CJK SC',serif;font-size:45.14px" fill="#231f20">1850</text>
<text transform="translate(249.30,692.15) scale(0.9440,1)" text-anchor="middle" style="font-family:'Liberation Serif','Noto Serif CJK SC',serif;font-size:45.14px" fill="#231f20">1875</text>
<text transform="translate(400.00,692.15) scale(0.9886,1)" text-anchor="middle" style="font-family:'Liberation Serif','Noto Serif CJK SC',serif;font-size:45.14px" fill="#231f20">1900</text>
<text transform="translate(544.25,692.15) scale(0.9550,1)" text-anchor="middle" style="font-family:'Liberation Serif','Noto Serif CJK SC',serif;font-size:45.14px" fill="#231f20">1925</text>
<text transform="translate(697.20,692.15) scale(0.9887,1)" text-anchor="middle" style="font-family:'Liberation Serif','Noto Serif CJK SC',serif;font-size:45.14px" fill="#231f20">1950</text>
<text transform="translate(845.60,692.15) scale(0.9603,1)" text-anchor="middle" style="font-family:'Liberation Serif','Noto Serif CJK SC',serif;font-size:45.14px" fill="#231f20">1975</text>
<text transform="translate(994.75,692.15) scale(0.9896,1)" text-anchor="middle" style="font-family:'Liberation Serif','Noto Serif CJK SC',serif;font-size:45.14px" fill="#231f20">2000</text>
<text transform="translate(244.40,74.55) scale(1.1500,1)" text-anchor="middle" style="font-family:'Liberation Serif','Noto Serif CJK SC',serif;font-size:33.71px" fill="#231f20">天</text>
<text transform="translate(287.45,76.35) scale(1.0122,1)" text-anchor="middle" style="font-family:'Liberation Serif','Noto Serif CJK SC',serif;font-size:37.42px" fill="#231f20">然</text>
<text transform="translate(332.90,77.88) scale(0.9689,1)" text-anchor="middle" style="font-family:'Liberation Serif','Noto Serif CJK SC',serif;font-size:40.37px" fill="#231f20">气</text>
<text transform="translate(441.18,73.00) scale(1.1500,1)" text-anchor="middle" style="font-family:'Liberation Serif','Noto Serif CJK SC',serif;font-size:32.13px" fill="#231f20">石</text>
<text transform="translate(487.55,74.41) scale(1.1285,1)" text-anchor="middle" style="font-family:'Liberation Serif','Noto Serif CJK SC',serif;font-size:34.75px" fill="#231f20">油</text>
<text transform="translate(599.90,76.45) scale(1.0387,1)" text-anchor="middle" style="font-family:'Liberation Serif','Noto Serif CJK SC',serif;font-size:40.84px" fill="#231f20">煤</text>
<text transform="translate(644.10,74.55) scale(1.1500,1)" text-anchor="middle" style="font-family:'Liberation Serif','Noto Serif CJK SC',serif;font-size:38.27px" fill="#231f20">炭</text>
<text transform="translate(242.75,134.96) scale(1.1426,1)" text-anchor="middle" style="font-family:'Liberation Serif','Noto Serif CJK SC',serif;font-size:37.32px" fill="#231f20">核</text>
<text transform="translate(288.25,134.12) scale(1.0697,1)" text-anchor="middle" style="font-family:'Liberation Serif','Noto Serif CJK SC',serif;font-size:37.78px" fill="#231f20">能</text>
<text transform="translate(444.50,134.48) scale(1.0806,1)" text-anchor="middle" style="font-family:'Liberation Serif','Noto Serif CJK SC',serif;font-size:38.80px" fill="#231f20">水</text>
<text transform="translate(488.25,134.12) scale(1.0697,1)" text-anchor="middle" style="font-family:'Liberation Serif','Noto Serif CJK SC',serif;font-size:37.78px" fill="#231f20">能</text>
<text transform="translate(600.30,134.52) scale(0.9543,1)" text-anchor="middle" style="font-family:'Liberation Serif','Noto Serif CJK SC',serif;font-size:40.19px" fill="#231f20">生</text>
<text transform="translate(643.05,134.20) scale(1.0350,1)" text-anchor="middle" style="font-family:'Liberation Serif','Noto Serif CJK SC',serif;font-size:37.85px" fill="#231f20">物</text>
<text transform="translate(688.00,134.26) scale(1.0450,1)" text-anchor="middle" style="font-family:'Liberation Serif','Noto Serif CJK SC',serif;font-size:38.04px" fill="#231f20">能</text>
<text transform="translate(527.05,747.56) scale(1.0091,1)" text-anchor="middle" style="font-family:'Liberation Serif','Noto Serif CJK SC',serif;font-size:41.59px" fill="#231f20">年</text>
<text transform="translate(571.40,746.10) scale(1.1500,1)" text-anchor="middle" style="font-family:'Liberation Serif','Noto Serif CJK SC',serif;font-size:35.99px" fill="#231f20">份</text>
<text transform="translate(205.00,807.42) scale(1.1500,1)" text-anchor="middle" style="font-family:'Liberation Serif','Noto Serif CJK SC',serif;font-size:41.05px" fill="#231f20">世</text>
<text transform="translate(255.30,810.18) scale(1.0852,1)" text-anchor="middle" style="font-family:'Liberation Serif','Noto Serif CJK SC',serif;font-size:48.95px" fill="#231f20">界</text>
<text transform="translate(304.60,808.91) scale(1.0299,1)" text-anchor="middle" style="font-family:'Liberation Serif','Noto Serif CJK SC',serif;font-size:43.89px" fill="#231f20">能</text>
<text transform="translate(353.25,807.36) scale(0.9832,1)" text-anchor="middle" style="font-family:'Liberation Serif','Noto Serif CJK SC',serif;font-size:42.31px" fill="#231f20">源</text>
<text transform="translate(403.00,808.30) scale(0.9201,1)" text-anchor="middle" style="font-family:'Liberation Serif','Noto Serif CJK SC',serif;font-size:45.00px" fill="#231f20">消</text>
<text transform="translate(453.15,811.36) scale(0.8092,1)" text-anchor="middle" style="font-family:'Liberation Serif','Noto Serif CJK SC',serif;font-size:49.46px" fill="#231f20">费</text>
<text x="490.95" y="806.45" text-anchor="middle" style="font-family:'Liberation Serif','Noto Serif CJK SC',serif;font-size:50.00px" fill="#231f20">,</text>
<text transform="translate(552.65,809.76) scale(0.9642,1)" text-anchor="middle" style="font-family:'Liberation Serif','Noto Serif CJK SC',serif;font-size:51.18px" fill="#231f20">1850</text>
<text transform="translate(631.70,810.03) scale(1.0205,1)" text-anchor="middle" style="font-family:'Liberation Serif','Noto Serif CJK SC',serif;font-size:47.08px" fill="#231f20">年</text>
<text transform="translate(678.95,808.59) scale(0.9125,1)" text-anchor="middle" style="font-family:'Liberation Serif','Noto Serif CJK SC',serif;font-size:47.25px" fill="#231f20">到</text>
<text transform="translate(761.75,809.76) scale(0.9732,1)" text-anchor="middle" style="font-family:'Liberation Serif','Noto Serif CJK SC',serif;font-size:51.18px" fill="#231f20">2000</text>
<text transform="translate(842.85,810.03) scale(1.0044,1)" text-anchor="middle" style="font-family:'Liberation Serif','Noto Serif CJK SC',serif;font-size:47.08px" fill="#231f20">年</text>
</svg></body></html>
